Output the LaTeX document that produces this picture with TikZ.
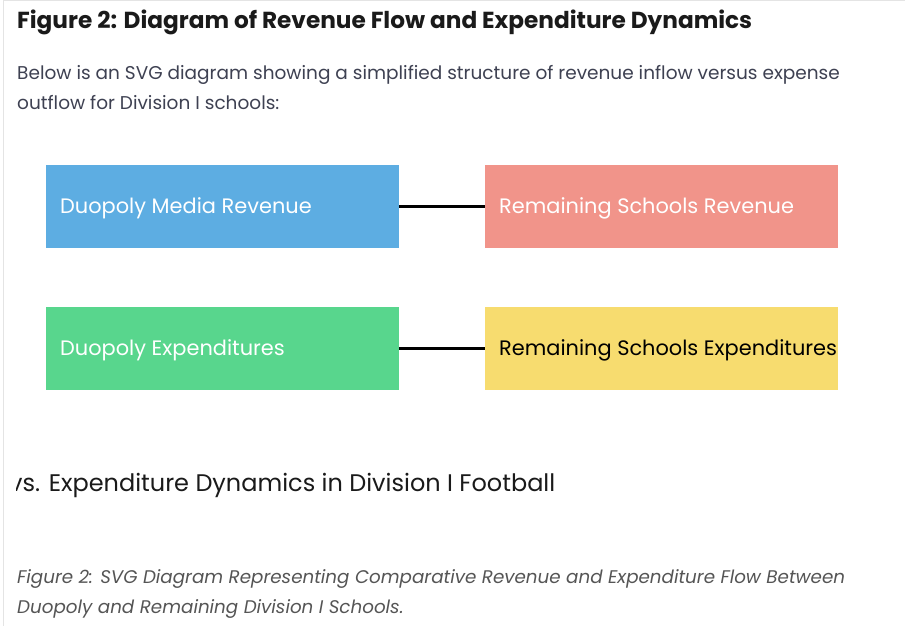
\documentclass[tikz,border=0pt]{standalone}
\usepackage{fontspec}
\setmainfont{Poppins}
\definecolor{cblue}{HTML}{5DADE2}
\definecolor{cpink}{HTML}{F1948A}
\definecolor{cgreen}{HTML}{58D68D}
\definecolor{cyellow}{HTML}{F7DC6F}
\definecolor{ctitle}{HTML}{1A1A1A}
\definecolor{cpara}{HTML}{3E4152}
\definecolor{ccap}{HTML}{555555}
\definecolor{cframe}{HTML}{E4E4E4}
\begin{document}
\begin{tikzpicture}[x=1pt,y=-1pt,
  boxshape/.style={rectangle, draw=none, minimum width=353pt, minimum height=83pt, inner sep=0pt, anchor=north west},
  boxtext/.style={anchor=west, inner sep=0pt, font=\fontsize{20.9}{25}\selectfont},
  link/.style={line width=2.6pt, black},
  para/.style={anchor=base west, inner sep=0pt, text=cpara, font=\fontsize{18.5}{22}\selectfont},
  captext/.style={anchor=base west, inner sep=0pt, text=ccap, font=\fontsize{18.3}{22}\selectfont\itshape}]
\useasboundingbox (0,0) rectangle (905,626);
\fill[white] (0,0) rectangle (905,626);
\draw[cframe, line width=1pt] (3,626) -- (3,1) -- (905,1);
% title
\node[anchor=base west, inner sep=0pt, text=ctitle, font=\fontsize{23.2}{27}\bfseries] (title) at (17,29) {Figure 2: Diagram of Revenue Flow and Expenditure Dynamics};
\node[para] (p1) at (17,79) {Below is an SVG diagram showing a simplified structure of revenue inflow versus expense};
\node[para] (p2) at (17,110) {outflow for Division I schools:};
% boxes
\node[boxshape, fill=cblue] (dmr) at (46,165) {};
\node[boxshape, fill=cpink] (rsr) at (485,165) {};
\node[boxshape, fill=cgreen] (de) at (46,307) {};
\node[boxshape, fill=cyellow] (rse) at (485,307) {};
\node[boxtext, text=white] (t1) at ([xshift=14pt,yshift=-2pt]dmr.west) {Duopoly Media Revenue};
\node[boxtext, text=white] (t2) at ([xshift=14pt,yshift=-2pt]rsr.west) {Remaining Schools Revenue};
\node[boxtext, text=white] (t3) at ([xshift=14pt,yshift=-2pt]de.west) {Duopoly Expenditures};
\node[boxtext, text=black] (t4) at ([xshift=14pt,yshift=-2pt]rse.west) {Remaining Schools Expenditures};
\draw[link] (dmr.east) -- (rsr.west);
\draw[link] (de.east) -- (rse.west);
% clipped heading
\begin{scope}
\clip (16,440) rectangle (905,520);
\node[anchor=base west, inner sep=0pt, text=ctitle, font=\fontsize{24}{28}\selectfont] (h2) at (9,491) {vs. Expenditure Dynamics in Division I Football};
\end{scope}
% caption
\node[captext] (c1) at (17,583) {Figure 2: SVG Diagram Representing Comparative Revenue and Expenditure Flow Between};
\node[captext] (c2) at (17,613) {Duopoly and Remaining Division I Schools.};
\end{tikzpicture}
\end{document}
